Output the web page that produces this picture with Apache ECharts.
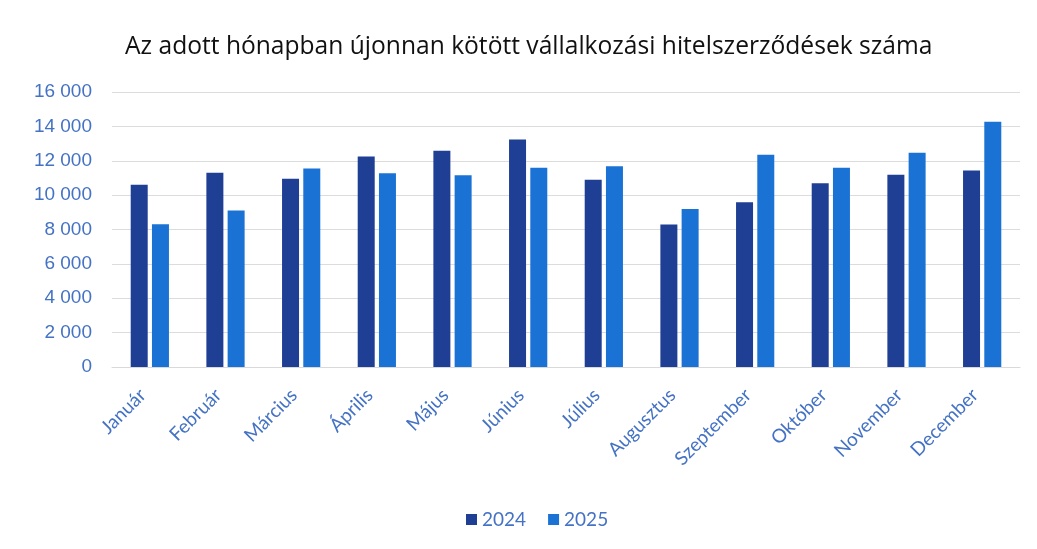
<!DOCTYPE html>
<html>
<head>
<meta charset="utf-8">
<script src="https://cdn.jsdelivr.net/npm/echarts@6/dist/echarts.min.js"></script>
<style>
    html, body { margin: 0; padding: 0; background: #fff; }
    #chart { width: 1037px; height: 549px; }
</style>
</head>
<body>
<div id="chart"></div>
<script>
// honapok
var months = ['Január', 'Február', 'Március', 'Április', 'Május', 'Június',
    'Július', 'Augusztus', 'Szeptember', 'Október', 'November', 'December'];
var values2024 = [10600, 11300, 10950, 12250, 12580, 13240, 10890, 8290, 9580, 10690, 11180, 11430];
var values2025 = [8300, 9100, 11550, 11270, 11150, 11600, 11680, 9190, 12350, 11600, 12460, 14270];
var seriesNames = ['2024', '2025'];

var blue = '#4472c4';
var fontName = 'Lato, "Open Sans", sans-serif';

var myChart = echarts.init(document.getElementById('chart'));
var option = {
    backgroundColor: '#fff',
    animation: false,
    title: {
        text: 'Az adott hónapban újonnan kötött vállalkozási hitelszerződések száma',
        left: 120,
        top: 29,
        textStyle: {
            color: '#111',
            fontSize: 24.6,
            fontWeight: 500,
            fontFamily: '"Open Sans", sans-serif'
        }
    },
    legend: {
        data: seriesNames,
        bottom: 15,
        left: 461,
        itemWidth: 11,
        itemHeight: 11,
        itemGap: 22,
        icon: 'rect',
        textStyle: { color: blue, fontSize: 19, fontFamily: fontName }
    },
    grid: {
        left: 112,
        right: 17,
        top: 92,
        bottom: 182,
        containLabel: false
    },
    xAxis: {
        type: 'category',
        data: months,
        axisLine: { show: true, lineStyle: { color: '#d9d9d9' } },
        axisTick: { show: false },
        axisLabel: {
            rotate: 45,
            margin: 18,
            padding: [0, 10, 0, 0],
            interval: 0,
            color: blue,
            fontSize: 19,
            fontFamily: fontName
        }
    },
    yAxis: {
        type: 'value',
        min: 0,
        max: 16000,
        interval: 2000,
        axisLine: { show: false },
        axisTick: { show: false },
        splitLine: { lineStyle: { color: '#dcdcdc' } },
        axisLabel: {
            margin: 20,
            color: blue,
            fontSize: 19,
            fontFamily: 'Liberation Sans, Arial, sans-serif',
            formatter: function (v) {
                return String(v).replace(/\B(?=(\d{3})+(?!\d))/g, ' ');
            }
        }
    },
    series: [
        {
            name: seriesNames[0],
            type: 'bar',
            data: values2024,
            barWidth: 17,
            barGap: '25%',
            itemStyle: { color: '#1f3f95' }
        },
        {
            name: seriesNames[1],
            type: 'bar',
            data: values2025,
            barWidth: 17,
            itemStyle: { color: '#1a73d4' }
        }
    ]
};
myChart.setOption(option);
</script>
</body>
</html>
